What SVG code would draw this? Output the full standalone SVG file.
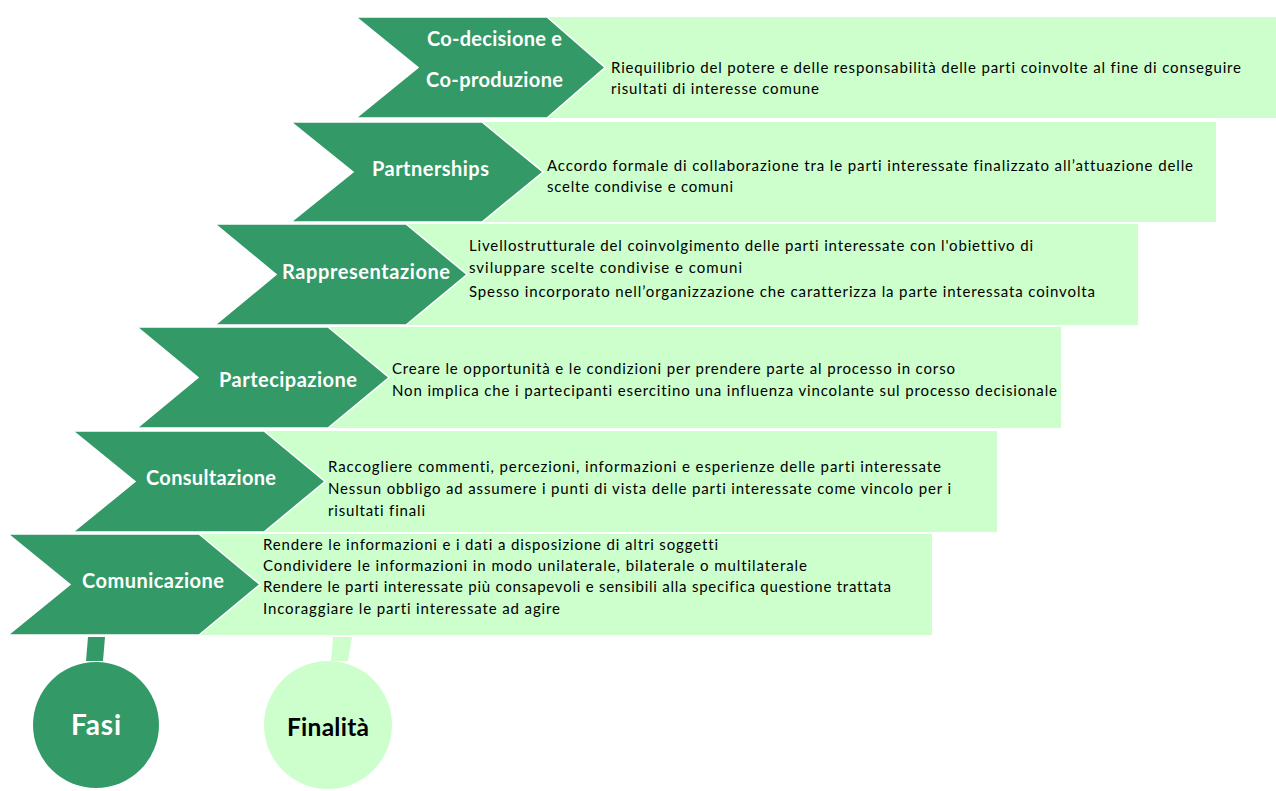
<svg xmlns="http://www.w3.org/2000/svg" width="1276" height="791" viewBox="0 0 1276 791">
<style>
text{font-variant-ligatures:none}
.box{fill:#CCFFCC}
.chev{fill:#339966;stroke:#FFFFFF;stroke-width:1.5}
.lbl{font-family:Lato,"Liberation Sans",sans-serif;font-weight:bold;font-size:20px;fill:#FFFFFF;text-anchor:middle}
.desc{font-family:Lato,"Liberation Sans",sans-serif;font-size:15px;fill:#000000}
</style>
<rect width="1276" height="791" fill="#FFFFFF"/>
<g id="row-codecisione">
<rect class="box" x="500" y="17" width="776" height="101"/>
<path class="chev" d="M356,17 L547,17 L605,67.5 L547,118 L356,118 L418,67.5 Z"/>
<text class="lbl" x="494.5" y="46" textLength="135">Co-decisione e</text>
<text class="lbl" x="494.5" y="87" textLength="137">Co-produzione</text>
<text class="desc" x="611" y="73" textLength="630">Riequilibrio del potere e delle responsabilità delle parti coinvolte al fine di conseguire</text>
<text class="desc" x="611" y="94" textLength="208">risultati di interesse comune</text>
</g>
<g id="row-partnerships">
<rect class="box" x="440" y="122" width="776" height="100"/>
<path class="chev" d="M291,122 L482,122 L543,172 L482,222 L291,222 L353,172 Z"/>
<text class="lbl" x="430.5" y="176" textLength="117">Partnerships</text>
<text class="desc" x="547" y="171" textLength="646">Accordo formale di collaborazione tra le parti interessate finalizzato all’attuazione delle</text>
<text class="desc" x="547" y="192" textLength="186">scelte condivise e comuni</text>
</g>
<g id="row-rappresentazione">
<rect class="box" x="360" y="224" width="778" height="101"/>
<path class="chev" d="M215,224 L406,224 L467,274.5 L406,325 L215,325 L276,274.5 Z"/>
<text class="lbl" x="366" y="279" textLength="168">Rappresentazione</text>
<text class="desc" x="469" y="251" textLength="564">Livellostrutturale del coinvolgimento delle parti interessate con l'obiettivo di</text>
<text class="desc" x="469" y="273" textLength="273">sviluppare scelte condivise e comuni</text>
<text class="desc" x="469" y="297" textLength="626">Spesso incorporato nell’organizzazione che caratterizza la parte interessata coinvolta</text>
</g>
<g id="row-partecipazione">
<rect class="box" x="280" y="327" width="781" height="101"/>
<path class="chev" d="M137,327 L328,327 L389,377.5 L328,428 L137,428 L198,377.5 Z"/>
<text class="lbl" x="288" y="387" textLength="138">Partecipazione</text>
<text class="desc" x="392" y="374" textLength="563">Creare le opportunità e le condizioni per prendere parte al processo in corso</text>
<text class="desc" x="392" y="396" textLength="665">Non implica che i partecipanti esercitino una influenza vincolante sul processo decisionale</text>
</g>
<g id="row-consultazione">
<rect class="box" x="220" y="431" width="777" height="101"/>
<path class="chev" d="M73,431 L264,431 L325,481.5 L264,532 L73,532 L135,481.5 Z"/>
<text class="lbl" x="211" y="485" textLength="130">Consultazione</text>
<text class="desc" x="328" y="472" textLength="613">Raccogliere commenti, percezioni, informazioni e esperienze delle parti interessate</text>
<text class="desc" x="328" y="494" textLength="623">Nessun obbligo ad assumere i punti di vista delle parti interessate come vincolo per i</text>
<text class="desc" x="328" y="516" textLength="97">risultati finali</text>
</g>
<g id="row-comunicazione">
<rect class="box" x="150" y="534" width="782" height="101"/>
<path class="chev" d="M8,534 L199,534 L260,584.5 L199,635 L8,635 L70,584.5 Z"/>
<text class="lbl" x="153" y="588" textLength="142">Comunicazione</text>
<text class="desc" x="263" y="550" textLength="455">Rendere le informazioni e i dati a disposizione di altri soggetti</text>
<text class="desc" x="263" y="571" textLength="544">Condividere le informazioni in modo unilaterale, bilaterale o multilaterale</text>
<text class="desc" x="263" y="592" textLength="628">Rendere le parti interessate più consapevoli e sensibili alla specifica questione trattata</text>
<text class="desc" x="263" y="614" textLength="297">Incoraggiare le parti interessate ad agire</text>
</g>
<g id="connectors">
<path d="M88,637 L105,637 L103,661 L86,661 Z" fill="#339966"/>
<path d="M333,637 L352,637 L348,661 L331,661 Z" fill="#CCFFCC"/>
</g>
<g id="node-fasi">
<circle cx="96" cy="725" r="63" fill="#339966"/>
<text x="96" y="735" font-family="Lato,'Liberation Sans',sans-serif" font-weight="bold" font-size="28" fill="#FFFFFF" text-anchor="middle" textLength="50">Fasi</text>
</g>
<g id="node-finalita">
<circle cx="328" cy="725" r="64" fill="#CCFFCC"/>
<text x="328" y="736" font-family="Lato,'Liberation Sans',sans-serif" font-weight="bold" font-size="24.5" fill="#000000" text-anchor="middle" textLength="82">Finalità</text>
</g>
</svg>
